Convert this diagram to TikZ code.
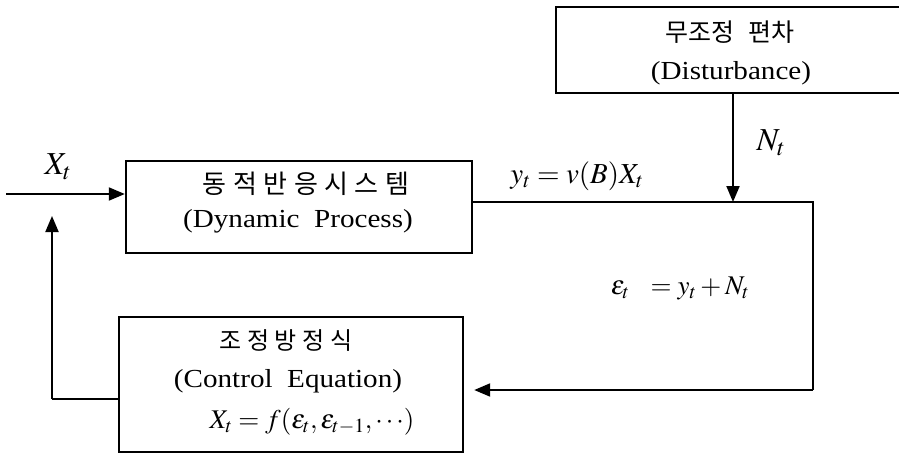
\documentclass[tikz,border=0pt]{standalone}
\usepackage{mathptmx}
\usepackage{fontspec}
\setmainfont{Liberation Serif}[FakeStretch=1.12]
\newfontfamily\kr{Noto Sans CJK KR}
\newcommand{\gp}{\hspace{6.5pt}}
\newcommand{\gq}{\hspace{5.5pt}}
\usetikzlibrary{arrows.meta}
\begin{document}
\begin{tikzpicture}[x=1pt,y=-1pt,
  blk/.style={draw,line width=2.4pt,minimum width=#1,inner sep=0pt},
  conn/.style={line width=2pt},
  arr/.style={conn,-{Triangle[length=16pt,width=13pt]}},
  lat/.style={font=\fontsize{26}{30}\selectfont,inner sep=0pt},
  kra/.style={font=\kr\fontsize{25}{30}\selectfont,inner sep=0pt},
  krc/.style={font=\kr\fontsize{26}{30}\selectfont,inner sep=0pt},
  krb/.style={font=\kr\fontsize{24}{30}\selectfont,inner sep=0pt},
  lab/.style={inner sep=0pt}]
\useasboundingbox (0,0) rectangle (899,453);
\clip (0,0) rectangle (899,453);
% boxes
\node[blk=354pt,minimum height=86pt] (dist) at (733,50) {};
\node[blk=346pt,minimum height=92pt] (dyn) at (299,207) {};
\node[blk=344pt,minimum height=135pt] (ctrl) at (291,384.5) {};
% box texts
\node[kra] (t1) at (730,32) {무조정\hspace{14pt}편차};
\node[lat] (t2) at (731,73) {(Disturbance)};
\node[krc] (t3) at (306,184) {동\gp 적\gp 반\gp 응\gp 시\gp 스\gp 템};
\node[lat] (t4) at (298,221) {(Dynamic\ \ Process)};
\node[krb] (t5) at (286,341) {조\gq 정\gq 방\gq 정\gq 식};
\node[lat] (t6) at (288,381) {(Control\ \ Equation)};
\node[lab,font=\fontsize{27}{30}\selectfont] (t7) at (312,422) {$X_t=f(\varepsilon_t,\varepsilon_{t-1},\cdots)$};
% connector labels
\node[lab,font=\fontsize{32}{34}\selectfont] (lx) at (58,167) {$X_t$};
\node[lab,font=\fontsize{32}{34}\selectfont] (ln) at (771,143) {$N_t$};
\node[lab,font=\fontsize{29}{32}\selectfont] (ly) at (577,176) {$y_t=v(B)X_t$};
\node[lab,font=\fontsize{27}{30}\selectfont] (le) at (680,288) {$\varepsilon_t\ \ =y_t+N_t$};
% coordinates
\coordinate (in) at (6,194);
\coordinate (sum) at (733,202);
\coordinate (cr) at (813,202);
\coordinate (cb) at (813,390);
\coordinate (fb) at (52,399);
\coordinate (fbt) at (52,216);
% connectors
\draw[arr] (in) -- (dyn.west |- in);
\draw[conn] (dyn.east |- sum) -- (cr) -- (cb);
\draw[arr] (cb) -- ([xshift=10pt]ctrl.east |- cb);
\draw[arr] (dist.south -| sum) -- (sum);
\draw[conn] (ctrl.west |- fb) -- (fb);
\draw[arr] (fb) -- (fbt);
\end{tikzpicture}
\end{document}
